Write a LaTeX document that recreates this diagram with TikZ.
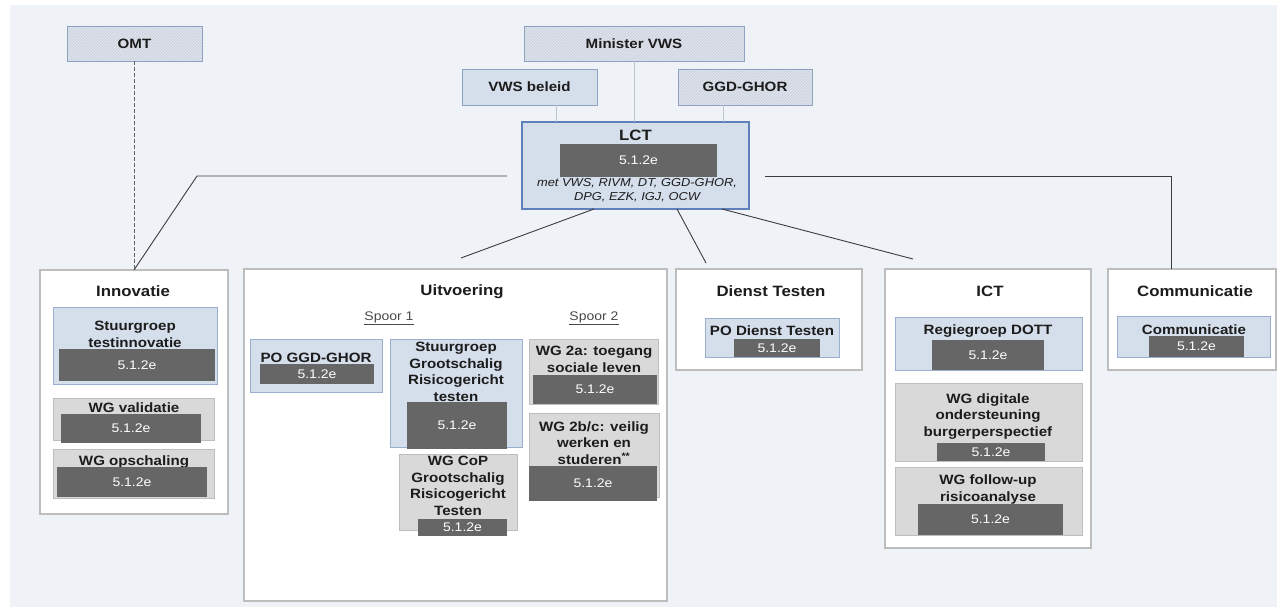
\documentclass[tikz,border=0pt]{standalone}
\usepackage{fontspec}
\setmainfont{Liberation Sans}[FakeStretch=1.12]
\usetikzlibrary{patterns,calc}
\definecolor{bgc}{HTML}{EFF2F7}
\definecolor{panelbd}{HTML}{BDBDBD}
\definecolor{lfill}{HTML}{D5DEEB}
\definecolor{lbd}{HTML}{9AAED0}
\definecolor{lctbd}{HTML}{5F80BA}
\definecolor{gfill}{HTML}{D9D9D9}
\definecolor{gbd}{HTML}{BEBEBE}
\definecolor{darkc}{HTML}{666666}
\definecolor{hfill}{HTML}{CDD5E1}
\definecolor{hln}{HTML}{E9EDF3}
\definecolor{hbd}{HTML}{8EA2C2}
\definecolor{txt}{HTML}{1C1C1C}
\definecolor{connc}{HTML}{3C3C3C}
\definecolor{topln}{HTML}{BCC4CF}
\newcommand\setfs[2]{\fontsize{#1}{#2}\selectfont}
\newcommand\Bx[7]{\node[#1,anchor=north west,minimum width={#5-#3},minimum height={#6-#4}] (#2) at (#3,#4) {#7};}
\tikzset{
  panel/.style={draw=panelbd,fill=white,line width=1.1pt,inner sep=0pt,outer sep=0pt},
  lbox/.style={draw=lbd,fill=lfill,line width=0.9pt,inner sep=0pt,outer sep=0pt},
  lctbox/.style={draw=lctbd,fill=lfill,line width=1.2pt,inner sep=0pt,outer sep=0pt},
  gbox/.style={draw=gbd,fill=gfill,line width=0.9pt,inner sep=0pt,outer sep=0pt},
  dbox/.style={fill=darkc,draw=none,inner sep=0pt,outer sep=0pt},
  hbox/.style={draw=hbd,line width=0.9pt,preaction={fill=hfill},pattern=north east lines,pattern color=hln,
    inner sep=0pt,outer sep=0pt,font=\bfseries\setfs{13.5}{16},text=txt},
  wbox/.style={draw=hbd,fill=lfill,line width=0.9pt,inner sep=0pt,outer sep=0pt,font=\bfseries\setfs{13.5}{16},text=txt},
  ttl/.style={font=\bfseries\setfs{15}{18},text=txt,inner sep=0pt},
  btx/.style={font=\bfseries\setfs{13.5}{16.5},align=center,text=txt,inner sep=0pt},
  lab/.style={font=\setfs{12.5}{14},text=white,inner sep=0pt},
  spoor/.style={font=\setfs{12.5}{14},text=txt!80,inner sep=0pt},
  conn/.style={draw=connc,line width=0.9pt},
  tline/.style={draw=topln,line width=0.8pt},
  dline/.style={draw=connc!80,line width=0.8pt,dash pattern=on 4pt off 2pt}
}
\begin{document}
\begin{tikzpicture}[x=1pt,y=-1pt]
\useasboundingbox (0,0) rectangle (1277,609);
\fill[bgc] (10,5) rectangle (1277,607);

% top boxes
\Bx{hbox}{omt}{67}{26}{202}{61}{OMT}
\Bx{hbox}{min}{524}{26}{744}{61}{Minister VWS}
\Bx{wbox}{vws}{462}{69}{597}{105}{VWS beleid}
\Bx{hbox}{ggd}{678}{69}{812}{105}{GGD-GHOR}

% panels
\Bx{panel}{innov}{40}{270}{228}{514}{}
\Bx{panel}{uitv}{244}{269}{667}{601}{}
\Bx{panel}{dienst}{676}{269}{862}{370}{}
\Bx{panel}{ict}{885}{269}{1091}{548}{}
\Bx{panel}{comm}{1108}{269}{1276}{370}{}

% LCT
\Bx{lctbox}{lct}{522}{122}{749}{209}{}

% connectors from the top
\coordinate (v1) at ($(vws.south west)+(94,0)$);
\coordinate (g1) at ($(ggd.south west)+(45,0)$);
\draw[tline] (v1) -- (v1 |- lct.north);
\draw[tline] (min.south) -- (min.south |- lct.north);
\draw[tline] (g1) -- (g1 |- lct.north);

% connectors from LCT
\coordinate (la) at (507,176);
\coordinate (lb) at (197,176);
\coordinate (ra) at (765,176);
\coordinate (rb) at (1171,176);
\draw[conn] (la) -- (lb) -- (innov.north);
\draw[dline] (omt.south) -- (omt.south |- innov.north);
\draw[conn] (ra) -- (rb) -- (rb |- comm.north);
\coordinate (b1) at ($(lct.south west)+(72,0)$);
\coordinate (b2) at ($(lct.south west)+(155,0)$);
\coordinate (b3) at ($(lct.south west)+(200,0)$);
\coordinate (e1) at (461,258);
\coordinate (e2) at (706,263);
\coordinate (e3) at (913,259);
\draw[conn] (b1) -- (e1);
\draw[conn] (b2) -- (e2);
\draw[conn] (b3) -- (e3);

% LCT content
\node[ttl] (lctt) at (635.5,135) {LCT};
\Bx{dbox}{lctd}{560}{144}{717}{177}{}
\node[lab] (lctl) at (lctd.center) {5.1.2e};
\node[font=\itshape\setfs{11.5}{14},text=txt,align=center,inner sep=0pt] (lctm) at (637,190.5) {met VWS, RIVM, DT, GGD-GHOR,\\DPG, EZK, IGJ, OCW};

% Innovatie
\node[ttl] (innovt) at (133,291) {Innovatie};
\Bx{lbox}{sti}{53}{307}{217}{384}{}
\Bx{gbox}{wgv}{53}{398}{214}{440}{}
\Bx{gbox}{wgo}{53}{449}{214}{498}{}
\node[btx] (stit) at (135,334.5) {Stuurgroep\\testinnovatie};
\node[btx] (wgvt) at (134,407.5) {WG validatie};
\node[btx] (wgot) at (134,462.5) {WG opschaling};
\Bx{dbox}{stid}{59}{349}{215}{381}{}
\Bx{dbox}{wgvd}{61}{414}{201}{443}{}
\Bx{dbox}{wgod}{57}{467}{207}{497}{}
\node[lab] at (stid.center) (stil) {5.1.2e};
\node[lab] at (wgvd.center) (wgvl) {5.1.2e};
\node[lab] at (wgod.center) (wgol) {5.1.2e};

% Uitvoering
\node[ttl] (uitvt) at (462,292) {Uitvoering};
\node[spoor] (sp1) at (389,318) {\underline{Spoor 1}};
\node[spoor] (sp2) at (594,318) {\underline{Spoor 2}};
\Bx{lbox}{pog}{250}{339}{382}{392}{}
\Bx{lbox}{sgr}{390}{339}{522}{447}{}
\Bx{gbox}{cop}{399}{454}{517}{530}{}
\Bx{gbox}{w2a}{529}{339}{658}{404}{}
\Bx{gbox}{w2b}{529}{413}{659}{497}{}
\node[btx] (pogt) at (316,358) {PO GGD-GHOR};
\node[btx] (sgrt) at (456,372) {Stuurgroep\\Grootschalig\\Risicogericht\\testen};
\node[btx] (copt) at (458,486) {WG CoP\\Grootschalig\\Risicogericht\\Testen};
\node[btx] (w2at) at (594,359.5) {WG 2a: toegang\\sociale leven};
\node[btx] (w2bt) at (594,443) {WG 2b/c: veilig\\werken en\\studeren\textsuperscript{**}};
\Bx{dbox}{pogd}{260}{364}{374}{384}{}
\Bx{dbox}{sgrd}{407}{402}{507}{449}{}
\Bx{dbox}{copd}{418}{519}{507}{536}{}
\Bx{dbox}{w2ad}{533}{375}{657}{404}{}
\Bx{dbox}{w2bd}{529}{466}{657}{501}{}
\node[lab] at (pogd.center) (pogl) {5.1.2e};
\node[lab] at (sgrd.center) (sgrl) {5.1.2e};
\node[lab] at (copd.center) (copl) {5.1.2e};
\node[lab] at (w2ad.center) (w2al) {5.1.2e};
\node[lab] at (w2bd.center) (w2bl) {5.1.2e};

% Dienst Testen
\node[ttl] (dienstt) at (771,291) {Dienst Testen};
\Bx{lbox}{pdt}{705}{318}{839}{357}{}
\node[btx] (pdtt) at (772,331) {PO Dienst Testen};
\Bx{dbox}{pdtd}{734}{339}{820}{357}{}
\node[lab] at (pdtd.center) (pdtl) {5.1.2e};

% ICT
\node[ttl] (ictt) at (990,291) {ICT};
\Bx{lbox}{rdt}{895}{317}{1082}{370}{}
\Bx{gbox}{wgd}{895}{383}{1082}{461}{}
\Bx{gbox}{wgf}{895}{467}{1082}{535}{}
\node[btx] (rdtt) at (988,331) {Regiegroep DOTT};
\node[btx] (wgdt) at (988,416.5) {WG digitale\\ondersteuning\\burgerperspectief};
\node[btx] (wgft) at (988,489.5) {WG follow-up\\risicoanalyse};
\Bx{dbox}{rdtd}{932}{340}{1044}{370}{}
\Bx{dbox}{wgdd}{937}{443}{1045}{461}{}
\Bx{dbox}{wgfd}{918}{504}{1063}{535}{}
\node[lab] at (rdtd.center) (rdtl) {5.1.2e};
\node[lab] at (wgdd.center) (wgdl) {5.1.2e};
\node[lab] at (wgfd.center) (wgfl) {5.1.2e};

% Communicatie
\node[ttl] (commt) at (1195,291) {Communicatie};
\Bx{lbox}{cbx}{1117}{316}{1270}{357}{}
\node[btx] (cbxt) at (1194,330) {Communicatie};
\Bx{dbox}{cbxd}{1149}{336}{1244}{357}{}
\node[lab] at (cbxd.center) (cbxl) {5.1.2e};
\end{tikzpicture}
\end{document}
